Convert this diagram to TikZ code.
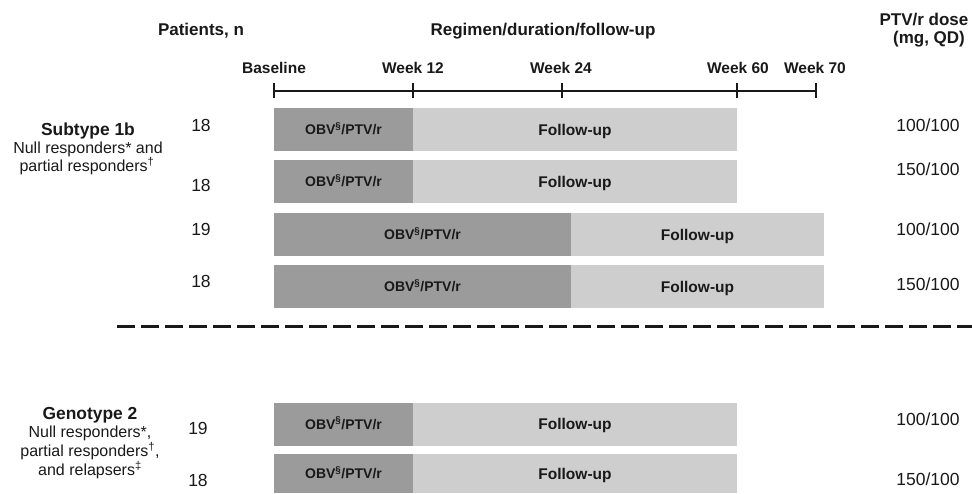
\documentclass[tikz,border=0pt]{standalone}
\usepackage{fontspec}
\setmainfont{Liberation Sans}
\definecolor{barDark}{RGB}{155,155,155}
\definecolor{barLight}{RGB}{206,206,206}
\definecolor{txt}{RGB}{25,25,25}
\begin{document}
\begin{tikzpicture}[x=1pt,y=-1pt,
  lbl/.style={inner sep=0pt, text=txt, text depth=0pt},
  seg/.style={lbl, rectangle, minimum height=43pt, text height=10pt, font=\bfseries\fontsize{14}{16}\selectfont},
  darkseg/.style={seg, fill=barDark},
  lightseg/.style={seg, fill=barLight, text height=11.1pt, font=\bfseries\fontsize{15.5}{18}\selectfont},
  head/.style={lbl, text height=12.2pt, font=\bfseries\fontsize{17}{20}\selectfont},
  wk/.style={lbl, text height=11.1pt, font=\bfseries\fontsize{15.5}{18}\selectfont},
  num/.style={lbl, text height=12.5pt, font=\fontsize{17.5}{20}\selectfont},
  grptitle/.style={lbl, text height=12.5pt, font=\bfseries\fontsize{17.4}{20}\selectfont},
  grpline/.style={lbl, text height=11.5pt, font=\fontsize{16}{19}\selectfont},
  axis/.style={draw=txt, line width=1.2pt},
  divider/.style={draw=txt, line width=3pt, dash pattern=on 18pt off 6pt}
]
\useasboundingbox (0,0) rectangle (972,493);

% headers
\node[head] (hpat) at (201,29) {Patients, n};
\node[head] (hreg) at (543,29) {Regimen/duration/follow-up};
\node[head] (hdose1) at (924,19) {PTV/r dose};
\node[head] (hdose2) at (929,37) {(mg, QD)};

% timeline
\coordinate (t0) at (274,91);
\coordinate (t1) at (413,91);
\coordinate (t2) at (562,91);
\coordinate (t3) at (737,91);
\coordinate (t4) at (816,91);
\draw[axis] (t0) -- (t4);
\foreach \t in {t0,t1,t2,t3,t4}{
  \draw[axis] ([yshift=8pt]\t) -- ([yshift=-7pt]\t);
}
\node[wk] (wbase) at (274,68) {Baseline};
\node[wk] (w12) at (413,68) {Week 12};
\node[wk] (w24) at (561,68) {Week 24};
\node[wk] (w60) at (738,68) {Week 60};
\node[wk] (w70) at (815,68) {Week 70};

% group labels
\node[grptitle] (g1t) at (88,129) {Subtype 1b};
\node[grpline] (g1a) at (88,148) {Null responders* and};
\node[grpline] (g1b) at (87,166) {partial responders\textsuperscript{†}};
\node[grptitle] (g2t) at (90,413) {Genotype 2};
\node[grpline] (g2a) at (90,432) {Null responders*,};
\node[grpline] (g2b) at (90,451) {partial responders\textsuperscript{†},};
\node[grpline] (g2c) at (90,470) {and relapsers\textsuperscript{‡}};

% patient numbers
\node[num] (n1) at (201,125) {18};
\node[num] (n2) at (201,185) {18};
\node[num] (n3) at (201,229) {19};
\node[num] (n4) at (201,281) {18};
\node[num] (n5) at (198,428) {19};
\node[num] (n6) at (198,480) {18};

% bars
\node[darkseg, minimum width=139pt] (d1) at (343.5,129.5) {OBV\textsuperscript{§}/PTV/r};
\node[lightseg, minimum width=324pt] (l1) at (575,129.5) {Follow-up};
\node[darkseg, minimum width=139pt] (d2) at (343.5,181.5) {OBV\textsuperscript{§}/PTV/r};
\node[lightseg, minimum width=324pt] (l2) at (575,181.5) {Follow-up};
\node[darkseg, minimum width=297pt] (d3) at (422.5,234.5) {OBV\textsuperscript{§}/PTV/r};
\node[lightseg, minimum width=253pt] (l3) at (697.5,234.5) {Follow-up};
\node[darkseg, minimum width=297pt] (d4) at (422.5,286.5) {OBV\textsuperscript{§}/PTV/r};
\node[lightseg, minimum width=253pt] (l4) at (697.5,286.5) {Follow-up};
\node[darkseg, minimum width=139pt] (d5) at (343.5,424) {OBV\textsuperscript{§}/PTV/r};
\node[lightseg, minimum width=324pt] (l5) at (575,424) {Follow-up};
\node[darkseg, minimum width=139pt, minimum height=39pt] (d6) at (343.5,473.5) {OBV\textsuperscript{§}/PTV/r};
\node[lightseg, minimum width=324pt, minimum height=39pt] (l6) at (575,473.5) {Follow-up};

% doses
\node[num] (p1) at (928,125) {100/100};
\node[num] (p2) at (928,169) {150/100};
\node[num] (p3) at (928,229) {100/100};
\node[num] (p4) at (928,284) {150/100};
\node[num] (p5) at (928,419) {100/100};
\node[num] (p6) at (928,479) {150/100};

% divider
\coordinate (dl) at (117,326);
\coordinate (dr) at (972,326);
\draw[divider] (dl) -- (dr);
\end{tikzpicture}
\end{document}
